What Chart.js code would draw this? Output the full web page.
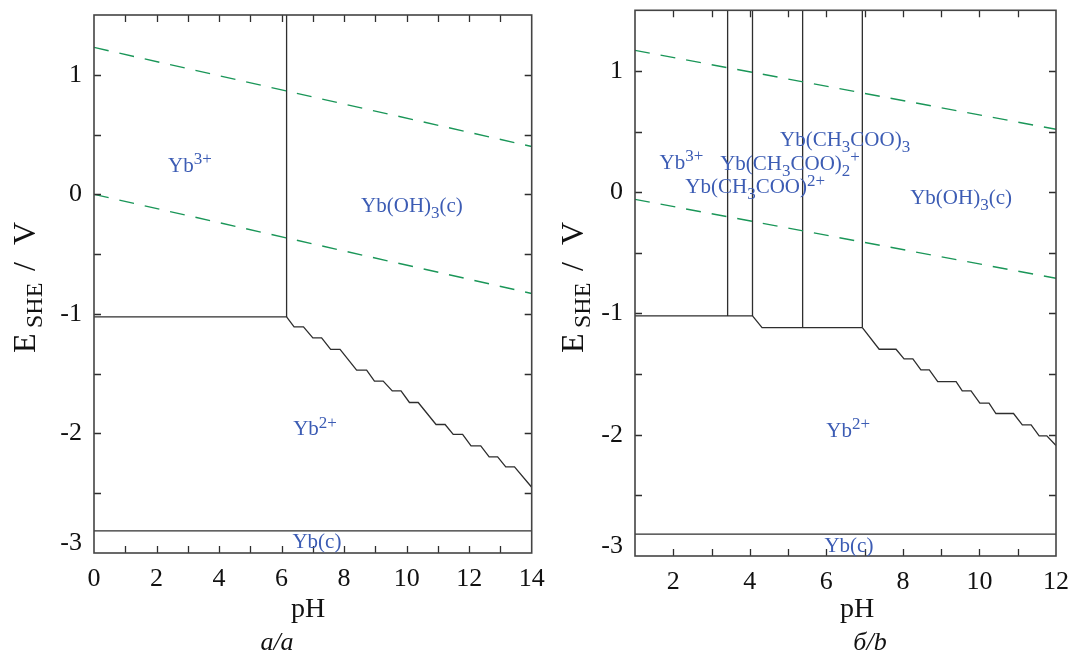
<!DOCTYPE html>
<html>
<head>
<meta charset="utf-8">
<script src="https://cdn.jsdelivr.net/npm/chart.js@4"></script>
<style>
  html, body { margin: 0; padding: 0; background: #ffffff; }
  #wrap { position: relative; width: 1074px; height: 657px; overflow: hidden; }
  canvas { position: absolute; top: 0; }
</style>
</head>
<body>
<div id="wrap">
  <canvas id="chartA" width="560" height="657" style="left:0px"></canvas>
  <canvas id="chartB" width="514" height="657" style="left:560px"></canvas>
</div>
<script>
// ---------- panel a: Yb – H2O ----------
const aWaterUpperPH = [0, 14];
const aWaterUpperE  = [1.229, 0.400];
const aWaterLowerPH = [0, 14];
const aWaterLowerE  = [0.000, -0.829];
const aYb3Yb2PH = [0, 6.16];
const aYb3Yb2E  = [-1.025, -1.025];
const aHydroPH  = [6.16, 6.16];
const aHydroE   = [-1.025, 1.5];
const aOxidePH = [6.16, 6.40, 6.70, 7.00, 7.28, 7.57, 7.87, 8.40, 8.72, 8.97, 9.25, 9.54, 9.82,
                  10.09, 10.37, 10.94, 11.23, 11.49, 11.79, 12.06, 12.37, 12.64, 12.91, 13.17, 13.45, 14.0];
const aOxideE  = [-1.025, -1.108, -1.108, -1.200, -1.200, -1.297, -1.297, -1.470, -1.470, -1.562, -1.562, -1.644, -1.644,
                  -1.741, -1.741, -1.925, -1.925, -2.008, -2.008, -2.104, -2.104, -2.196, -2.196, -2.279, -2.279, -2.45];
const aMetalPH = [0, 14];
const aMetalE  = [-2.815, -2.815];
const aLabelText = ['Yb^{3+}', 'Yb(OH)_{3}(c)', 'Yb^{2+}', 'Yb(c)'];
const aLabelPH   = [3.07, 10.17, 7.07, 7.13];
const aLabelE    = [0.245, -0.09, -1.956, -2.90];
const aTicksX = [0, 14, 1];
const aTicksY = [-3, 1.5, 0.5];

// ---------- panel b: Yb – CH3COOH – H2O ----------
const bWaterUpperPH = [1, 12];
const bWaterUpperE  = [1.170, 0.519];
const bWaterLowerPH = [1, 12];
const bWaterLowerE  = [-0.059, -0.710];
const bYb3Yb2PH = [1, 4.07, 4.32, 6.94];
const bYb3Yb2E  = [-1.02, -1.02, -1.117, -1.117];
const bAc1PH = [3.42, 3.42];
const bAc1E  = [-1.02, 1.5];
const bAc2PH = [4.07, 4.07];
const bAc2E  = [-1.02, 1.5];
const bAc3PH = [5.38, 5.38];
const bAc3E  = [-1.117, 1.5];
const bHydroPH = [6.94, 6.94];
const bHydroE  = [-1.117, 1.5];
const bOxidePH = [6.94, 7.38, 7.82, 8.03, 8.26, 8.47, 8.69, 8.91, 9.39, 9.55,
                  9.78, 10.01, 10.25, 10.43, 10.89, 11.12, 11.35, 11.56, 11.76, 12.0];
const bOxideE  = [-1.117, -1.295, -1.295, -1.375, -1.375, -1.465, -1.465, -1.562, -1.562, -1.638,
                  -1.638, -1.740, -1.740, -1.825, -1.825, -1.918, -1.918, -2.009, -2.009, -2.089];
const bMetalPH = [1, 12];
const bMetalE  = [-2.82, -2.82];
const bLabelText = ['Yb^{3+}', 'Yb(CH_{3}COO)_{3}', 'Yb(CH_{3}COO)_{2}^{+}', 'Yb(CH_{3}COO)^{2+}',
                    'Yb(OH)_{3}(c)', 'Yb^{2+}', 'Yb(c)'];
const bLabelPH   = [2.215, 6.49, 5.05, 4.14, 9.52, 6.57, 6.59];
const bLabelE    = [0.25, 0.437, 0.24, 0.05, -0.04, -1.96, -2.907];
const bTicksX = [1, 12, 1];
const bTicksY = [-3, 1.5, 0.5];

// ---------- styling ----------
const SERIF = '"Liberation Serif", "DejaVu Serif", serif';
const LINE_COLOR = '#2e2e2e';
const WATER_COLOR = '#1a9658';
const LABEL_COLOR = '#3c5cb4';
const FRAME_COLOR = '#444444';

const pts = (xs, ys) => xs.map((x, i) => ({ x: x, y: ys[i] }));

function boundary(xs, ys) {
  return { data: pts(xs, ys), borderColor: LINE_COLOR, borderWidth: 1.3,
           pointRadius: 0, showLine: true, tension: 0, fill: false };
}
function water(xs, ys) {
  return { data: pts(xs, ys), borderColor: WATER_COLOR, borderWidth: 1.4, borderDash: [15, 11],
           pointRadius: 0, showLine: true, tension: 0, fill: false };
}

// split "Yb(CH_{3}COO)_{2}^{+}" into normal / sub / sup runs
function parseRich(str) {
  const segs = [];
  let buf = '', i = 0;
  while (i < str.length) {
    const c = str[i];
    if ((c === '_' || c === '^') && str[i + 1] === '{') {
      if (buf) { segs.push({ t: buf, k: 'n' }); buf = ''; }
      const end = str.indexOf('}', i);
      segs.push({ t: str.slice(i + 2, end), k: c === '_' ? 'sub' : 'sup' });
      i = end + 1;
    } else { buf += c; i++; }
  }
  if (buf) segs.push({ t: buf, k: 'n' });
  return segs;
}

function drawRich(ctx, str, cx, cy, size) {
  const segs = parseRich(str);
  const small = Math.round(size * 0.8);
  const fontOf = k => (k === 'n' ? size : small) + 'px ' + SERIF;
  let total = 0;
  segs.forEach(s => { ctx.font = fontOf(s.k); s.w = ctx.measureText(s.t).width; total += s.w; });
  let x = cx - total / 2;
  const base = cy + size * 0.33;
  segs.forEach(s => {
    ctx.font = fontOf(s.k);
    const dy = s.k === 'sub' ? size * 0.30 : (s.k === 'sup' ? -size * 0.36 : 0);
    ctx.fillText(s.t, x, base + dy);
    x += s.w;
  });
}

function decorPlugin(cfg) {
  return {
    id: 'decor',
    afterDatasetsDraw(chart) {
      const ctx = chart.ctx;
      const a = chart.chartArea;
      const xs = chart.scales.x, ys = chart.scales.y;
      ctx.save();
      // inward tick marks on all four sides
      ctx.strokeStyle = LINE_COLOR;
      ctx.lineWidth = 1.3;
      const TL = 7;
      ctx.beginPath();
      xs.ticks.forEach(t => {
        if (t.value <= xs.min || t.value >= xs.max) return;
        const p = Math.round(xs.getPixelForValue(t.value)) + 0.5;
        ctx.moveTo(p, a.bottom); ctx.lineTo(p, a.bottom - TL);
        ctx.moveTo(p, a.top); ctx.lineTo(p, a.top + TL);
      });
      ys.ticks.forEach(t => {
        if (t.value <= ys.min || t.value >= ys.max) return;
        const p = Math.round(ys.getPixelForValue(t.value)) + 0.5;
        ctx.moveTo(a.left, p); ctx.lineTo(a.left + TL, p);
        ctx.moveTo(a.right, p); ctx.lineTo(a.right - TL, p);
      });
      ctx.stroke();
      // frame
      ctx.strokeStyle = FRAME_COLOR;
      ctx.lineWidth = 1.6;
      ctx.strokeRect(a.left, a.top, a.right - a.left, a.bottom - a.top);

      // species labels
      ctx.fillStyle = LABEL_COLOR;
      ctx.textBaseline = 'alphabetic';
      ctx.textAlign = 'left';
      cfg.labels.text.forEach((s, i) => {
        drawRich(ctx, s, xs.getPixelForValue(cfg.labels.ph[i]), ys.getPixelForValue(cfg.labels.e[i]), 21);
      });

      // axis titles and caption
      ctx.fillStyle = '#111111';
      ctx.textAlign = 'center';
      ctx.font = '28px ' + SERIF;
      ctx.fillText('pH', cfg.phX, cfg.phY);
      ctx.font = 'italic 26px ' + SERIF;
      ctx.fillText(cfg.caption, cfg.capX, cfg.capY);

      // rotated E_SHE / V
      ctx.translate(cfg.eX, cfg.eY);
      ctx.rotate(-Math.PI / 2);
      ctx.textAlign = 'left';
      ctx.font = '32px ' + SERIF;
      ctx.fillText('E', 0, 0);
      ctx.font = '24px ' + SERIF;
      ctx.fillText('SHE', 25, 7);
      ctx.font = '32px ' + SERIF;
      ctx.fillText('/', 82, 0);
      ctx.fillText('V', 108, 0);
      ctx.restore();
    }
  };
}

// keep tick-label overhang from moving the plot frame
function noOverhang(s) {
  s.paddingTop = 0; s.paddingBottom = 0; s.paddingLeft = 0; s.paddingRight = 0;
}

function makeChart(id, datasets, xr, yr, geom, cfg) {
  const tickFont = ctx => ({
    family: SERIF, size: 26,
    lineHeight: (ctx.tick && ctx.tick.value === yr[0]) ? '20px' : 1.2
  });
  return new Chart(document.getElementById(id), {
    type: 'scatter',
    data: { datasets: datasets },
    options: {
      responsive: false, animation: false, devicePixelRatio: 1,
      layout: { padding: { top: geom.top, right: geom.right, left: 0, bottom: 0 } },
      plugins: { legend: { display: false }, tooltip: { enabled: false } },
      scales: {
        x: {
          type: 'linear', min: xr[0], max: xr[1],
          grid: { display: false, drawTicks: false }, border: { display: false },
          ticks: {
            stepSize: xr[2], autoSkip: false, maxRotation: 0, padding: 11, color: '#111111',
            font: { family: SERIF, size: 26 },
            callback: v => (Math.abs(v % 2) < 1e-9 ? String(v) : '')
          },
          afterFit: s => { s.height = geom.xh; noOverhang(s); }
        },
        y: {
          type: 'linear', min: yr[0], max: yr[1],
          grid: { display: false, drawTicks: false }, border: { display: false },
          ticks: {
            stepSize: yr[2], autoSkip: false, padding: 12, color: '#111111',
            font: tickFont,
            callback: v => {
              if (Math.abs(v - Math.round(v)) > 1e-9) return '';
              const r = Math.round(v);
              return r === yr[0] ? [String(r), ''] : String(r);
            }
          },
          afterFit: s => { s.width = geom.yw; noOverhang(s); }
        }
      }
    },
    plugins: [decorPlugin(cfg)]
  });
}

makeChart('chartA', [
  water(aWaterUpperPH, aWaterUpperE),
  water(aWaterLowerPH, aWaterLowerE),
  boundary(aYb3Yb2PH, aYb3Yb2E),
  boundary(aHydroPH, aHydroE),
  boundary(aOxidePH, aOxideE),
  boundary(aMetalPH, aMetalE)
], aTicksX, aTicksY,
{ top: 15, right: 28.3, xh: 104, yw: 94 },
{ labels: { text: aLabelText, ph: aLabelPH, e: aLabelE },
  phX: 308, phY: 617, caption: 'a/a', capX: 277, capY: 650, eX: 35, eY: 353 });

makeChart('chartB', [
  water(bWaterUpperPH, bWaterUpperE),
  water(bWaterLowerPH, bWaterLowerE),
  boundary(bYb3Yb2PH, bYb3Yb2E),
  boundary(bAc1PH, bAc1E),
  boundary(bAc2PH, bAc2E),
  boundary(bAc3PH, bAc3E),
  boundary(bHydroPH, bHydroE),
  boundary(bOxidePH, bOxideE),
  boundary(bMetalPH, bMetalE)
], bTicksX, bTicksY,
{ top: 10.3, right: 18, xh: 101, yw: 75 },
{ labels: { text: bLabelText, ph: bLabelPH, e: bLabelE },
  phX: 297, phY: 617, caption: 'б/b', capX: 310, capY: 650, eX: 23, eY: 353 });
</script>
</body>
</html>
